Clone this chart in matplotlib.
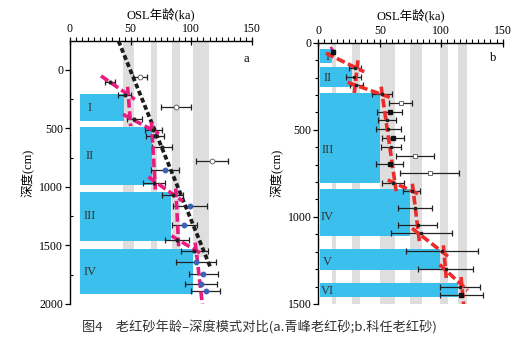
import numpy as np
import matplotlib
matplotlib.use("Agg")
import matplotlib.pyplot as plt
from matplotlib.ticker import MultipleLocator

plt.rcParams['font.family'] = ['Liberation Serif', 'Noto Sans CJK SC']
plt.rcParams['axes.unicode_minus'] = False

# ---------------- Panel a: Qingfeng ----------------
depth_a = [62, 108, 214, 319, 421, 513, 564, 661, 778, 855, 963, 1068, 1162, 1325,
           1453, 1544, 1638, 1746, 1829, 1889]
age_a = [57.7, 33, 45, 87.4, 53, 68.7, 70, 76, 117, 78.5, 69, 84.5, 99, 94,
         88, 102.5, 104, 110, 108, 112]
err_a = [6, 4.4, 5.5, 12.7, 6.2, 6.9, 7.1, 8.4, 13.3, 11.6, 9, 8.9, 13.7, 10.3,
         10, 11.3, 16.5, 12, 13.3, 12]
kind_a = ['open', 'dark', 'dark', 'open', 'dark', 'dark', 'dark', 'dark', 'open', 'blue',
          'dark', 'dark', 'blue', 'blue', 'dark', 'dark', 'blue', 'blue', 'blue', 'blue']

layer_a = ['I', 'II', 'III', 'IV']
layer_top_a = [208, 493, 1045, 1530]
layer_bot_a = [442, 983, 1459, 1917]
layer_age_a = [44.5, 67.3, 83.3, 101.6]
layer_start_a = 8

band_lo_a = [44, 66.5, 84, 101.6]
band_hi_a = [53, 71.5, 91, 114.8]

model_age_a = [31, 48, 49.5, 67.5, 70, 87.5, 89.3, 104, 108.5]
model_depth_a = [92, 214, 413, 513, 955, 1083, 1453, 1544, 1950]

trend_age_a = [40, 116]
trend_depth_a = [-245, 1695]

# ---------------- Panel b: Keren ----------------
depth_b = [52, 147, 195, 243, 296, 348, 396, 444, 497, 549, 597, 650, 696, 750,
           804, 850, 947, 1047, 1094, 1196, 1299, 1401, 1448]
age_b = [12.2, 29.9, 29, 31, 51.5, 67, 58, 56, 57, 61, 59, 78.5, 58, 90.5,
         60.5, 76, 78.5, 81, 83.7, 100.8, 103.5, 115, 116.4]
err_b = [0, 4.8, 6.1, 5.2, 8.2, 9.1, 10, 7.5, 10.2, 8.8, 8, 15.5, 10.8, 23.8,
         9, 6.8, 13.6, 15.9, 24.8, 29.4, 22.1, 16.3, 17.4]
kind_b = ['sq', 'dot', 'dot', 'dot', 'dot', 'open', 'sq', 'dot', 'dot', 'sq', 'dot', 'open',
          'sq', 'open', 'dot', 'dot', 'dot', 'dot', 'dot', 'dot', 'dot', 'dot', 'sq']

layer_b = ['I', 'II', 'III', 'IV', 'V', 'VI']
layer_top_b = [38, 138, 290, 842, 1186, 1381]
layer_bot_b = [118, 256, 804, 1110, 1305, 1458]
layer_age_b = [10.9, 27.2, 50.2, 74.6, 99, 114]
layer_label_depth_b = [80, 205, 616, 999, 1257, 1425]
layer_start_b = 1

band_lo_b = [10.9, 27.2, 50.2, 74.6, 99, 114]
band_hi_b = [14.4, 33.9, 62.4, 84.1, 105.8, 120.7]

model_age_b = [12, 31.5, 30, 52, 62.4, 77.3, 81.4, 102.3, 103.5, 116.7, 118.3]
model_depth_b = [80, 147, 243, 298, 807, 855, 1094, 1209, 1305, 1391, 1510]

BLUE = '#3bc0ee'
GRAY = '#dedede'
PINK = '#e61c80'
RED = '#ec2b2b'

fig = plt.figure(figsize=(5.18, 3.40), dpi=100)
ax_a = fig.add_axes([0.1351, 0.1059, 0.3514, 0.7735])
ax_b = fig.add_axes([0.6145, 0.1059, 0.3560, 0.7685])


def style_axes(ax, ymax, ymin, ymajor, yminor):
    ax.set_xlim(0, 150)
    ax.set_ylim(ymax, ymin)
    ax.xaxis.tick_top()
    ax.xaxis.set_label_position('top')
    ax.xaxis.set_major_locator(MultipleLocator(50))
    ax.xaxis.set_minor_locator(MultipleLocator(5))
    ax.yaxis.set_major_locator(MultipleLocator(ymajor))
    ax.yaxis.set_minor_locator(MultipleLocator(yminor))
    ax.tick_params(axis='x', which='major', direction='inout', length=6, width=0.9,
                   labelsize=8.5, pad=1)
    ax.tick_params(axis='x', which='minor', direction='out', length=3, width=0.8)
    ax.tick_params(axis='y', which='major', direction='out', length=3.5, width=0.9,
                   labelsize=8.5, pad=1.5)
    ax.tick_params(axis='y', which='minor', direction='in', length=2.5, width=0.8)
    for s in ('right', 'bottom'):
        ax.spines[s].set_visible(False)
    for s in ('top', 'left'):
        ax.spines[s].set_linewidth(1.0)
    ax.set_xlabel('OSL年龄(ka)', fontsize=9, labelpad=4)
    ax.set_ylabel('深度(cm)', fontsize=9, labelpad=3)


def draw_model(ax, ages, depths, color, ext_px=8, lw=2.6, dashes=(2.4, 1.0)):
    # each segment is stretched slightly past its nodes so joints appear as crosses
    fig.canvas.draw()
    pts = ax.transData.transform(np.column_stack([ages, depths]))
    inv = ax.transData.inverted()
    for p0, p1 in zip(pts[:-1], pts[1:]):
        d = p1 - p0
        u = d / np.hypot(*d)
        q0 = inv.transform(p0 - u * ext_px)
        q1 = inv.transform(p1 + u * ext_px)
        ax.plot([q0[0], q1[0]], [q0[1], q1[1]], color=color, lw=lw,
                dashes=dashes, dash_capstyle='butt', zorder=5)


# ---- panel a ----
style_axes(ax_a, 2000, -245, 500, 250)
for lo, hi in zip(band_lo_a, band_hi_a):
    ax_a.fill_betweenx([-245, 1600], lo, hi, color=GRAY, lw=0, zorder=1)
for name, t, b, r in zip(layer_a, layer_top_a, layer_bot_a, layer_age_a):
    ax_a.fill_betweenx([t, b], layer_start_a, r, color=BLUE, lw=0, zorder=2)
    ax_a.text(16.5, (t + b) / 2, name, fontsize=9, color='#333333',
              ha='center', va='center', zorder=3)

ax_a.errorbar(age_a, depth_a, xerr=err_a, fmt='none', ecolor='#222222',
              elinewidth=0.9, capsize=2, capthick=0.9, zorder=4)
for x, y, k in zip(age_a, depth_a, kind_a):
    if k == 'open':
        ax_a.plot(x, y, 'o', ms=3.5, mfc='white', mec='#555555', mew=0.6, zorder=6)
    elif k == 'blue':
        ax_a.plot(x, y, 'o', ms=3.2, mfc='#3f62b5', mec='#3f62b5', zorder=6)
    else:
        ax_a.plot(x, y, 'o', ms=2.0, mfc='#222222', mec='#222222', zorder=6)

ax_a.plot(trend_age_a, trend_depth_a, color='#1c1c1c', lw=2.7, dashes=(1.3, 0.75),
          zorder=5)
draw_model(ax_a, model_age_a, model_depth_a, PINK)
ax_a.text(145, -95, 'a', fontsize=9, ha='center', va='center')

# ---- panel b ----
style_axes(ax_b, 1500, 0, 500, 100)
ax_b.tick_params(axis='y', which='minor', direction='out', length=2.5)
for lo, hi in zip(band_lo_b, band_hi_b):
    ax_b.fill_betweenx([0, 1500], lo, hi, color=GRAY, lw=0, zorder=1)
for name, t, b, r, yl in zip(layer_b, layer_top_b, layer_bot_b, layer_age_b,
                             layer_label_depth_b):
    ax_b.fill_betweenx([t, b], layer_start_b, r, color=BLUE, lw=0, zorder=2)
    ax_b.text(7.5, yl, name, fontsize=9, color='#333333',
              ha='center', va='center', zorder=3)

ax_b.errorbar(age_b, depth_b, xerr=err_b, fmt='none', ecolor='#222222',
              elinewidth=0.9, capsize=2, capthick=0.9, zorder=4)
for x, y, k in zip(age_b, depth_b, kind_b):
    if k == 'open':
        ax_b.plot(x, y, 's', ms=3.3, mfc='white', mec='#555555', mew=0.6, zorder=6)
    elif k == 'sq':
        ax_b.plot(x, y, 's', ms=3.3, mfc='#111111', mec='#111111', zorder=6)
    else:
        ax_b.plot(x, y, 's', ms=1.8, mfc='#222222', mec='#222222', zorder=6)

ax_b.plot([10.5, 13], [30, 58], color=PINK, lw=1.8, zorder=5)
draw_model(ax_b, model_age_b, model_depth_b, RED)
ax_b.text(142, 90, 'b', fontsize=9, ha='center', va='center')

fig.text(0.50, 0.038, '图4\u3000老红砂年龄–深度模式对比(a.青峰老红砂;b.科任老红砂)',
         fontsize=9.5, ha='center', va='center', color='#333333',
         family=['Noto Sans CJK SC', 'DejaVu Sans'])

fig.savefig('out.png', dpi=100)
